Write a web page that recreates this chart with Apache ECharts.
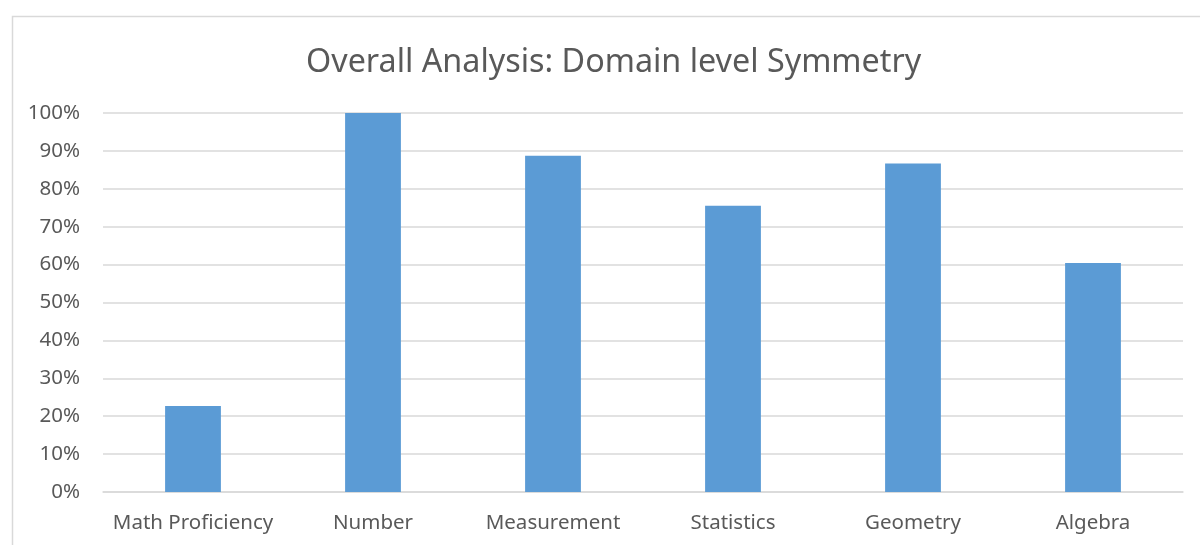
<!DOCTYPE html>
<html><head><meta charset="utf-8">
<script src="https://cdn.jsdelivr.net/npm/echarts@6/dist/echarts.min.js"></script>
<style>html,body{margin:0;padding:0;background:#fff}#c{width:1200px;height:545px}</style>
</head><body><div id="c"></div>
<script>
const categories = ["Math Proficiency", "Number", "Measurement", "Statistics", "Geometry", "Algebra"];
const values = [0.227, 1.0, 0.887, 0.755, 0.867, 0.604];
const titleText = "Overall Analysis: Domain level Symmetry";

const chart = echarts.init(document.getElementById('c'), null, {renderer: 'canvas'});
chart.setOption({
  animation: false,
  backgroundColor: '#fff',
  graphic: [{
    type: 'rect', left: 10, top: 14, shape: {width: 1220, height: 560},
    style: {fill: 'none', stroke: '#d9d9d9', lineWidth: 1.5}, silent: true
  }],
  title: {
    text: titleText, left: 301, top: 42,
    textStyle: {fontFamily: 'Noto Sans', fontSize: 32.3, fontWeight: 'normal', color: '#595959'}
  },
  grid: {left: 103, right: 17, top: 113, bottom: 53, containLabel: false},
  xAxis: {
    type: 'category', data: categories,
    axisLine: {lineStyle: {color: '#d9d9d9', width: 1.5}},
    axisTick: {show: false},
    axisLabel: {fontFamily: 'Noto Sans', fontSize: 20.5, color: '#595959', margin: 21, interval: 0, hideOverlap: false}
  },
  yAxis: {
    type: 'value', min: 0, max: 1, interval: 0.1,
    axisLine: {show: false}, axisTick: {show: false},
    splitLine: {lineStyle: {color: '#d9d9d9', width: 1.5}},
    axisLabel: {fontFamily: 'Noto Sans', fontSize: 20.5, color: '#595959', margin: 23,
      formatter: v => Math.round(v * 100) + '%'}
  },
  series: [{
    type: 'bar', data: values, barWidth: '31%',
    itemStyle: {color: '#5b9bd5'}
  }]
});
</script></body></html>
